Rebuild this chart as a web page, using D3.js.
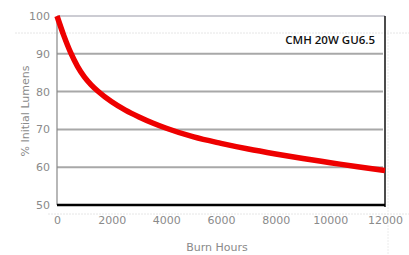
<!DOCTYPE html>
<html>
<head>
<meta charset="utf-8">
<script src="https://cdn.jsdelivr.net/npm/d3@7"></script>
<style>
  body { margin: 0; background: #fff; }
  text { font-family: "DejaVu Sans", sans-serif; }
</style>
</head>
<body>
<div id="chart"></div>
<script>
// data
const hours = [0, 250, 500, 750, 1000, 1250, 1500, 2000, 2500, 3000, 3500, 4000, 5000, 6000, 7000, 8000, 9000, 10000, 11000, 12000];
const lumens = [100, 94.8, 90.3, 86.7, 83.9, 81.8, 80.1, 77.3, 75.1, 73.3, 71.7, 70.3, 68, 66.3, 64.8, 63.5, 62.3, 61.2, 60.1, 59.1];
const xTicks = [0, 2000, 4000, 6000, 8000, 10000, 12000];
const yTicks = [50, 60, 70, 80, 90, 100];
const title = "CMH 20W GU6.5";

const W = 409, H = 255;
const margin = {top: 16, right: 24, bottom: 50, left: 57};
const width = W - margin.left - margin.right,
      height = H - margin.top - margin.bottom;

const svg = d3.select("#chart").append("svg")
    .attr("width", W).attr("height", H);

// faint scan artefacts
svg.append("line").attr("x1", 15).attr("x2", W).attr("y1", 33).attr("y2", 33)
    .attr("stroke", "#e6e6e6").attr("stroke-width", 1).attr("stroke-dasharray", "2,1");
svg.append("line").attr("x1", 48).attr("x2", W).attr("y1", 214).attr("y2", 214)
    .attr("stroke", "#e6e6e6").attr("stroke-width", 1).attr("stroke-dasharray", "2,1");
svg.append("line").attr("x1", 388).attr("x2", 388).attr("y1", 30).attr("y2", H)
    .attr("stroke", "#ececec").attr("stroke-width", 1).attr("stroke-dasharray", "2,1");

const g = svg.append("g").attr("transform", `translate(${margin.left},${margin.top})`);

const x = d3.scaleLinear().domain([0, 12000]).range([0, width]);
const y = d3.scaleLinear().domain([50, 100]).range([height, 0]);

// grid lines
g.selectAll(".grid").data(yTicks.filter(d => d > 50 && d < 100)).enter()
    .append("line")
    .attr("x1", 0).attr("x2", width - 2)
    .attr("y1", d => y(d)).attr("y2", d => y(d))
    .attr("stroke", "#a8a8a8").attr("stroke-width", 2);

// frame
g.append("line").attr("x1", 0).attr("x2", width).attr("y1", 0).attr("y2", 0)
    .attr("stroke", "#9a9aa8").attr("stroke-width", 1.2);
g.append("line").attr("x1", 0).attr("x2", 0).attr("y1", 0).attr("y2", height)
    .attr("stroke", "#888").attr("stroke-width", 1.2);
g.append("line").attr("x1", width).attr("x2", width).attr("y1", 0).attr("y2", height + 2)
    .attr("stroke", "#111").attr("stroke-width", 1.5);
g.append("line").attr("x1", 0).attr("x2", width).attr("y1", height).attr("y2", height)
    .attr("stroke", "#000").attr("stroke-width", 2.5);

// axes
const xAxis = g.append("g")
    .attr("transform", `translate(0,${height})`)
    .call(d3.axisBottom(x).tickValues(xTicks).tickSize(0).tickPadding(11).tickFormat(d3.format("d")));
const yAxis = g.append("g")
    .call(d3.axisLeft(y).tickValues(yTicks).tickSize(0).tickPadding(7));
[xAxis, yAxis].forEach(a => {
  a.select(".domain").remove();
  a.selectAll("text").attr("fill", "#8a8a8a").style("font-size", "11px")
      .style("font-family", "'DejaVu Sans', sans-serif");
});

// curve
const line = d3.line()
    .x((d, i) => x(hours[i]))
    .y(d => y(d))
    .curve(d3.curveMonotoneX);
g.append("path")
    .datum(lumens)
    .attr("d", line)
    .attr("fill", "none")
    .attr("stroke", "#ee0000")
    .attr("stroke-width", 5.5)
    .attr("stroke-linecap", "butt");

// labels
svg.append("text")
    .attr("x", 375).attr("y", 44)
    .attr("text-anchor", "end")
    .style("font-family", "'Open Sans', sans-serif")
    .style("font-weight", "600")
    .style("font-size", "11.5px")
    .attr("fill", "#111")
    .text(title);

svg.append("text")
    .attr("x", 217).attr("y", 251)
    .attr("text-anchor", "middle")
    .attr("fill", "#8a8a8a")
    .style("font-size", "11px")
    .text("Burn Hours");

svg.append("text")
    .attr("transform", "translate(29,111) rotate(-90)")
    .attr("text-anchor", "middle")
    .attr("fill", "#8a8a8a")
    .style("font-size", "11px")
    .text("% Initial Lumens");
</script>
</body>
</html>
